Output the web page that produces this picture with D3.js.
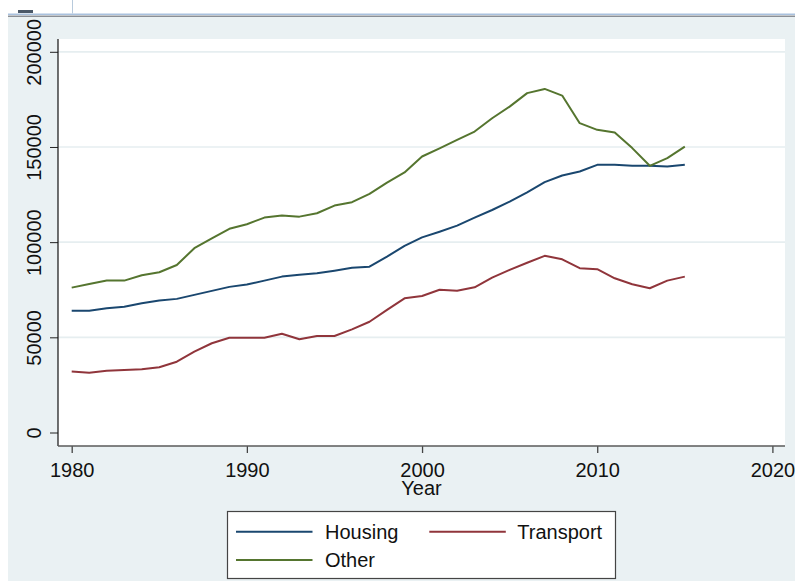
<!DOCTYPE html>
<html>
<head>
<meta charset="utf-8">
<script src="https://cdn.jsdelivr.net/npm/d3@7"></script>
<style>
  body { margin: 0; background: #fff; }
  svg { display: block; font-family: "Liberation Sans", Arial, sans-serif; }
</style>
</head>
<body>
<svg id="chart"></svg>
<script>
// data
const years = d3.range(1980, 2016);
const housing = [63900, 64000, 65300, 66100, 67900, 69300, 70200, 72300, 74400, 76500,
  77700, 79800, 81900, 82900, 83700, 85000, 86500, 87100, 92400, 98000,
  102500, 105500, 108700, 112900, 116900, 121300, 126200, 131500, 135000, 137100,
  140600, 140600, 140200, 140200, 139700, 140600];
const transport = [32000, 31400, 32500, 32800, 33200, 34300, 37200, 42500, 46900, 49800,
  49800, 49800, 51900, 49000, 50700, 50700, 54200, 58200, 64400, 70500,
  71700, 75000, 74500, 76300, 81400, 85400, 89200, 92800, 91000, 86300,
  85800, 81000, 77900, 75800, 79800, 81900];
const other = [76100, 78000, 79800, 79800, 82600, 84200, 88000, 96800, 102000, 107000,
  109400, 112900, 114000, 113400, 115200, 119200, 121000, 125400, 131300, 136600,
  145000, 149300, 153700, 158100, 165100, 171200, 178300, 180500, 177000, 162500,
  159000, 157600, 149400, 140100, 144100, 150200];
const seriesNames = ["Housing", "Transport", "Other"];
const seriesColors = ["#1a476f", "#90353b", "#55752f"];
const yTicks = [0, 50000, 100000, 150000, 200000];
const xTicks = [1980, 1990, 2000, 2010, 2020];

const W = 795, H = 581;
const svg = d3.select("#chart").attr("width", W).attr("height", H);

// window bits around the graph (screenshot frame)
svg.append("rect").attr("x", 0).attr("y", 0).attr("width", W).attr("height", H).attr("fill", "#fff");
svg.append("rect").attr("x", 8).attr("y", 17).attr("width", W - 8).attr("height", H - 17).attr("fill", "#eaf1f3");
svg.append("line").attr("x1", 8).attr("x2", W).attr("y1", 14.2).attr("y2", 14.2)
  .attr("stroke", "#a9c1de").attr("stroke-width", 1.6);
svg.append("line").attr("x1", 8).attr("x2", W).attr("y1", 16.3).attr("y2", 16.3)
  .attr("stroke", "#8a8f96").attr("stroke-width", 1.4);
svg.append("line").attr("x1", 72.5).attr("x2", 72.5).attr("y1", 0).attr("y2", 13.5)
  .attr("stroke", "#b8cadc").attr("stroke-width", 1);
svg.append("rect").attr("x", 18).attr("y", 10).attr("width", 15).attr("height", 3).attr("fill", "#4a5868");

// plot region
const plot = { left: 58, right: 785, top: 39, bottom: 446 };
svg.append("rect").attr("x", plot.left).attr("y", plot.top)
  .attr("width", plot.right - plot.left).attr("height", plot.bottom - plot.top).attr("fill", "#fff");

const x = d3.scaleLinear().domain([1980, 2020]).range([71.7, 772.4]);
const y = d3.scaleLinear().domain([0, 200000]).range([432.5, 51.8]);

// grid
svg.append("g").selectAll("line")
  .data(yTicks.filter(d => d > 0))
  .join("line")
  .attr("x1", plot.left).attr("x2", plot.right)
  .attr("y1", d => y(d)).attr("y2", d => y(d))
  .attr("stroke", "#e6eef0").attr("stroke-width", 1.7);

// y axis
const yAxis = svg.append("g").attr("transform", `translate(${plot.left},0)`)
  .call(d3.axisLeft(y).tickValues(yTicks).tickSize(8).tickFormat(d3.format("d")));
yAxis.select(".domain").remove();
yAxis.selectAll(".tick line").attr("stroke", "#222");
yAxis.selectAll(".tick text")
  .attr("x", null).attr("dy", null)
  .attr("transform", "translate(-17,0) rotate(-90)")
  .attr("text-anchor", "middle")
  .attr("font-size", 20).attr("fill", "#111")
  .attr("font-family", "Liberation Sans, Arial, sans-serif");
svg.append("line").attr("x1", plot.left).attr("x2", plot.left)
  .attr("y1", plot.top).attr("y2", plot.bottom).attr("stroke", "#111").attr("stroke-width", 1.2);

// x axis
const xAxis = svg.append("g").attr("transform", `translate(0,${plot.bottom})`)
  .call(d3.axisBottom(x).tickValues(xTicks).tickSize(7).tickFormat(d3.format("d")));
xAxis.select(".domain").remove();
xAxis.selectAll(".tick line").attr("stroke", "#444").attr("stroke-width", 1.3);
xAxis.selectAll(".tick text")
  .attr("y", 31).attr("dy", null)
  .attr("font-size", 20).attr("fill", "#111")
  .attr("font-family", "Liberation Sans, Arial, sans-serif");
svg.append("line").attr("x1", plot.left).attr("x2", plot.right)
  .attr("y1", plot.bottom).attr("y2", plot.bottom).attr("stroke", "#5a5a5a").attr("stroke-width", 1.6);

svg.append("text").attr("x", (plot.left + plot.right) / 2).attr("y", 495)
  .attr("text-anchor", "middle").attr("font-size", 20).attr("fill", "#111").text("Year");

// lines
const allSeries = [housing, transport, other];
const line = d3.line().x((d, i) => x(years[i])).y(d => y(d));
svg.append("g").selectAll("path")
  .data(allSeries)
  .join("path")
  .attr("d", line)
  .attr("fill", "none")
  .attr("stroke", (d, i) => seriesColors[i])
  .attr("stroke-width", 2)
  .attr("stroke-linejoin", "round");

// legend
const legend = svg.append("g");
legend.append("rect").attr("x", 227.5).attr("y", 511.5).attr("width", 388).attr("height", 67)
  .attr("fill", "#fff").attr("stroke", "#444").attr("stroke-width", 1.2);
const legPos = [
  { lx: 236, tx: 325, cy: 531.7 },
  { lx: 429.3, tx: 517.3, cy: 531.7 },
  { lx: 236, tx: 325, cy: 560 }
];
seriesNames.forEach((name, i) => {
  const p = legPos[i];
  legend.append("line").attr("x1", p.lx).attr("x2", p.lx + 76.5)
    .attr("y1", p.cy).attr("y2", p.cy)
    .attr("stroke", seriesColors[i]).attr("stroke-width", 2);
  legend.append("text").attr("x", p.tx).attr("y", p.cy + 7)
    .attr("font-size", 20).attr("fill", "#111").text(name);
});
</script>
</body>
</html>
